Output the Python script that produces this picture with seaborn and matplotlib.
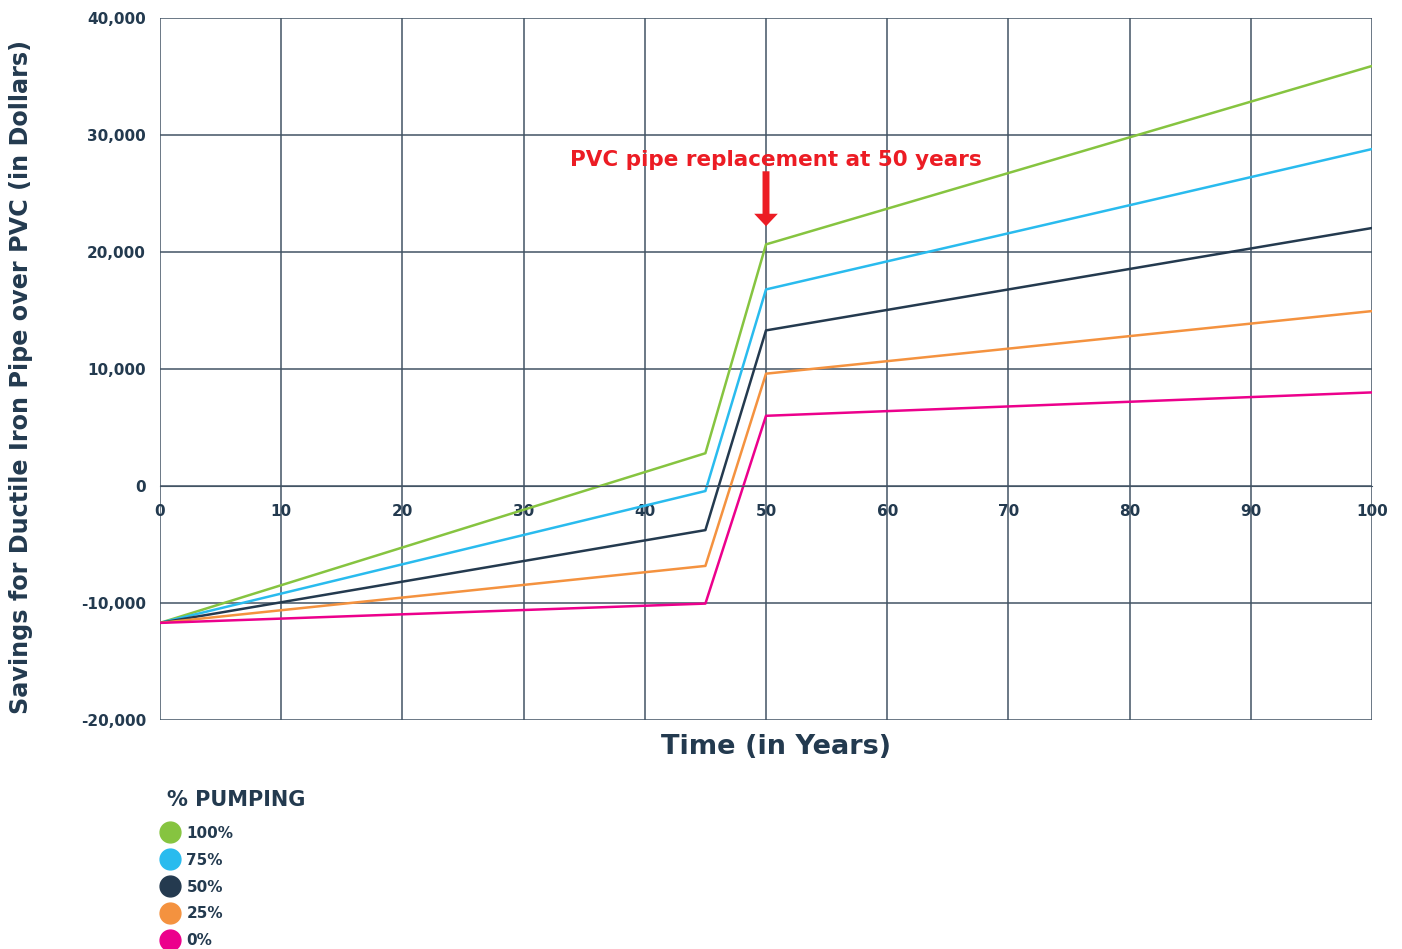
import pandas as pd
import matplotlib.pyplot as plt
import seaborn as sns
from matplotlib.lines import Line2D

# Data
years = [0, 45, 50, 100]
pumping = ['100%', '75%', '50%', '25%', '0%']
savings_100 = [-11700, 2800, 20650, 35900]
savings_75 = [-11700, -430, 16800, 28800]
savings_50 = [-11700, -3770, 13300, 22050]
savings_25 = [-11700, -6830, 9600, 14950]
savings_0 = [-11700, -10050, 6000, 8000]
colors = ['#86c440', '#29bbee', '#243a4f', '#f4923f', '#ec008c']

navy = '#233a4f'
grid_col = '#425464'
red = '#ec1c24'

df = pd.DataFrame({
    'year': years * 5,
    'savings': savings_100 + savings_75 + savings_50 + savings_25 + savings_0,
    'pumping': [p for p in pumping for _ in years],
})

sns.set_style('white')
plt.rcParams['font.family'] = ['DejaVu Sans']
plt.rcParams['font.weight'] = 'bold'

fig = plt.figure(figsize=(14.02, 9.49), dpi=100)
ax = fig.add_axes([160 / 1402, 1 - 720 / 949, 1212 / 1402, 702 / 949])

sns.lineplot(data=df, x='year', y='savings', hue='pumping', hue_order=pumping,
             palette=dict(zip(pumping, colors)), linewidth=1.8, legend=False, ax=ax)

ax.set_xlim(0, 100)
ax.set_ylim(-20000, 40000)
ax.set_xticks(range(0, 101, 10))
ax.set_yticks(range(-20000, 40001, 10000))
ax.set_yticklabels([f'{v:,}' for v in range(-20000, 40001, 10000)])
ax.grid(True, color=grid_col, linewidth=1.1)
ax.set_axisbelow(True)
for s in ['top', 'right', 'left']:
    ax.spines[s].set_visible(False)
ax.spines['bottom'].set_position(('data', 0))
ax.spines['bottom'].set_color(grid_col)
ax.tick_params(axis='x', length=0, pad=13, labelsize=11, labelcolor=navy)
ax.tick_params(axis='y', length=0, pad=10, labelsize=11, labelcolor=navy)
for lab in ax.get_xticklabels() + ax.get_yticklabels():
    lab.set_fontweight('bold')

ax.set_xlabel('Time (in Years)', fontsize=19.5, fontweight='bold', color=navy, labelpad=0)
ax.xaxis.set_label_coords(0.508, -0.02)
ax.set_ylabel('Savings for Ductile Iron Pipe over PVC (in Dollars)', fontsize=17.2,
              fontweight='bold', color=navy)
ax.yaxis.set_label_coords(-0.105, 0.488)

ax.text(50.85, 27900, 'PVC pipe replacement at 50 years', color=red, fontsize=15.5,
        fontweight='bold', ha='center', va='center')
ax.annotate('', xy=(50, 22200), xytext=(50, 26900),
            arrowprops=dict(width=5, headwidth=17, headlength=9, shrink=0,
                            color=red, lw=0))

fig.text(167 / 1402, 1 - 800 / 949, '% PUMPING', fontsize=15, fontweight='bold',
         color=navy, va='center', ha='left')
handles = [Line2D([], [], marker='o', linestyle='none', markersize=15,
                  markerfacecolor=c, markeredgecolor=c) for c in colors]
leg = fig.legend(handles, pumping, loc='upper left',
                 bbox_to_anchor=(146 / 1402, 1 - 812 / 949), frameon=False,
                 labelspacing=0.78, handletextpad=0.35, handlelength=1.4,
                 prop={'size': 11, 'weight': 'bold'}, labelcolor=navy)

fig.savefig('out.png', dpi=100)
